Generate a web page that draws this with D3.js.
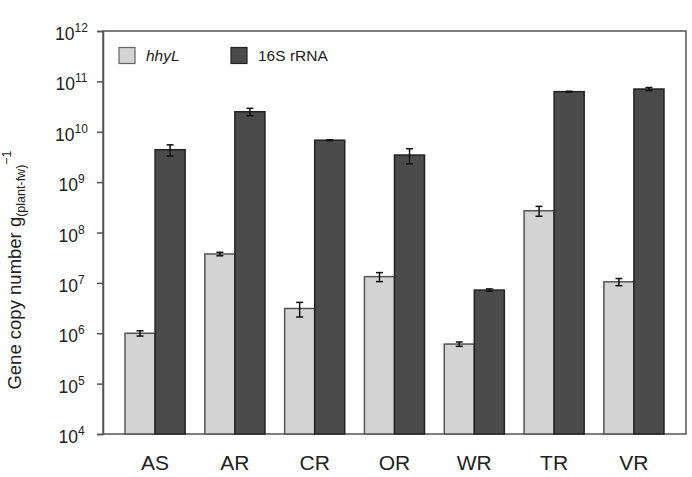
<!DOCTYPE html>
<html>
<head>
<meta charset="utf-8">
<script src="https://cdn.jsdelivr.net/npm/d3@7"></script>
<style>
  body { margin: 0; background: #fff; }
  text { font-family: "Liberation Sans", Arial, sans-serif; fill: #222; }
</style>
</head>
<body>
<svg id="chart" width="692" height="477"></svg>
<script>
const sites = ['AS', 'AR', 'CR', 'OR', 'WR', 'TR', 'VR']
const hhyL = [1.0e6, 3.75e7, 3.1e6, 1.33e7, 6.1e5, 2.7e8, 1.05e7]
const hhyLErr = [0.12e6, 0.3e7, 1.0e6, 0.27e7, 0.6e5, 0.6e8, 0.17e7]
const rrna = [4.4e9, 2.5e10, 6.8e9, 3.45e9, 7.2e6, 6.25e10, 7.05e10]
const rrnaErr = [1.1e9, 0.42e10, 0.15e9, 1.15e9, 0.4e6, 0.1e10, 0.5e10]
const yTicks = [4, 5, 6, 7, 8, 9, 10, 11, 12]

const margin = { left: 103, right: 6, top: 31, bottom: 43 }
const width = 692, height = 477
const svg = d3.select('#chart')

const x = d3.scaleBand()
  .domain(sites)
  .range([margin.left, width - margin.right])
  .paddingInner(0.247)
  .paddingOuter(0.276)

const sub = d3.scaleBand().domain(['hhyL', 'rrna']).range([0, x.bandwidth()])

const y = d3.scaleLog()
  .domain([1e4, 1e12])
  .range([height - margin.bottom, margin.top])

const series = [
  { key: 'hhyL', values: hhyL, errs: hhyLErr, fill: '#d3d3d3', stroke: '#555' },
  { key: 'rrna', values: rrna, errs: rrnaErr, fill: '#4b4b4b', stroke: '#222' }
]

// frame
svg.append('rect')
  .attr('x', margin.left)
  .attr('y', margin.top)
  .attr('width', width - margin.right - margin.left)
  .attr('height', height - margin.bottom - margin.top)
  .attr('fill', 'none')
  .attr('stroke', '#555')
  .attr('stroke-width', 1.5)

series.forEach(function (s) {
  const g = svg.append('g')
  g.selectAll('rect')
    .data(s.values)
    .join('rect')
    .attr('x', (d, i) => x(sites[i]) + sub(s.key))
    .attr('y', d => y(d))
    .attr('width', sub.bandwidth())
    .attr('height', d => y(1e4) - y(d))
    .attr('fill', s.fill)
    .attr('stroke', s.stroke)
    .attr('stroke-width', 1.5)

  // error bars
  const eg = g.selectAll('g.err')
    .data(s.values)
    .join('g')
    .attr('class', 'err')
    .attr('transform', (d, i) => 'translate(' + (x(sites[i]) + sub(s.key) + sub.bandwidth() / 2) + ',0)')
  eg.append('line')
    .attr('y1', (d, i) => y(d + s.errs[i]))
    .attr('y2', (d, i) => y(d - s.errs[i]))
    .attr('stroke', '#111').attr('stroke-width', 1.5)
  eg.append('line')
    .attr('x1', -3.5).attr('x2', 3.5)
    .attr('y1', (d, i) => y(d + s.errs[i]))
    .attr('y2', (d, i) => y(d + s.errs[i]))
    .attr('stroke', '#111').attr('stroke-width', 1.5)
  eg.append('line')
    .attr('x1', -3.5).attr('x2', 3.5)
    .attr('y1', (d, i) => y(d - s.errs[i]))
    .attr('y2', (d, i) => y(d - s.errs[i]))
    .attr('stroke', '#111').attr('stroke-width', 1.5)
})

// y axis
const yAxis = svg.append('g')
  .attr('transform', 'translate(' + margin.left + ',0)')
  .call(d3.axisLeft(y).tickValues(yTicks.map(e => Math.pow(10, e))).tickSize(6).tickFormat(''))
yAxis.select('.domain').attr('stroke', '#555').attr('stroke-width', 1.5)
yAxis.selectAll('.tick line').attr('stroke', '#555').attr('stroke-width', 1.5)

const tickLabels = svg.append('g')
yTicks.forEach(function (e) {
  const t = tickLabels.append('text')
    .attr('x', 71.5)
    .attr('y', y(Math.pow(10, e)) + 9)
    .attr('text-anchor', 'middle')
    .style('font-size', '17.5px')
  t.append('tspan').text('10')
  t.append('tspan').attr('dy', -8).style('font-size', '12px').text(e)
})

// x labels
svg.append('g').selectAll('text')
  .data(sites)
  .join('text')
  .attr('x', d => x(d) + x.bandwidth() / 2)
  .attr('y', 470)
  .attr('text-anchor', 'middle')
  .style('font-size', '21px')
  .text(d => d)

// y title
const title = svg.append('text')
  .attr('transform', 'translate(21,270) rotate(-90)')
  .attr('text-anchor', 'middle')
  .style('font-size', '18.5px')
title.append('tspan').text('Gene copy number g')
title.append('tspan').attr('dy', 4).style('font-size', '12.5px').text('(plant-fw)')
title.append('tspan').attr('dy', -14).style('font-size', '12.5px').text('−1')

// legend
const legendItems = [
  { label: 'hhyL', fill: '#d3d3d3', stroke: '#666', italic: true, x: 119 },
  { label: '16S rRNA', fill: '#4b4b4b', stroke: '#222', italic: false, x: 231 }
]
const legend = svg.append('g')
legendItems.forEach(function (l) {
  legend.append('rect')
    .attr('x', l.x).attr('y', 47.5)
    .attr('width', 16).attr('height', 16)
    .attr('fill', l.fill).attr('stroke', l.stroke).attr('stroke-width', 1.2)
  legend.append('text')
    .attr('x', l.x + 27).attr('y', 61)
    .style('font-size', '15.5px')
    .style('font-style', l.italic ? 'italic' : 'normal')
    .text(l.label)
})
</script>
</body>
</html>
